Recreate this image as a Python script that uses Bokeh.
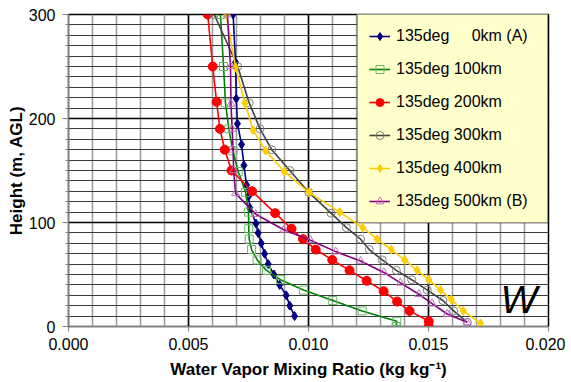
from bokeh.plotting import figure
from bokeh.models import (Range1d, SingleIntervalTicker, NumeralTickFormatter,
                          Legend, LegendItem, Label)
from bokeh.embed import file_html
from bokeh.resources import INLINE

# ---- data (height in m AGL, mixing ratio in kg/kg) ----
h_0km = [10, 20, 30, 40, 50, 60, 70, 80, 90, 99, 114, 125, 136, 155, 175, 195, 219, 254, 300]
q_0km = [0.00942, 0.00922, 0.00907, 0.00880, 0.00856, 0.00832, 0.00817, 0.00803, 0.00790, 0.00781,
         0.00756, 0.00750, 0.00742, 0.00731, 0.00721, 0.00704, 0.00699, 0.00696, 0.00686]

h_100km = [0, 5, 15, 25, 35, 45, 54, 64, 74, 84, 94, 110, 129, 149, 169, 190, 215, 250, 300]
q_100km = [0.01365, 0.01368, 0.01224, 0.01101, 0.00979, 0.00883, 0.00825, 0.00786, 0.00763, 0.00753,
           0.00751, 0.00750, 0.00738, 0.00707, 0.00685, 0.00668, 0.00654, 0.00646, 0.00633]

h_200km = [0, 5, 15, 24, 34, 44, 54, 64, 74, 84, 94, 109, 130, 150, 170, 190, 216, 250, 300]
q_200km = [0.01501, 0.01501, 0.01421, 0.01369, 0.01313, 0.01242, 0.01171, 0.01099, 0.01030, 0.00977,
           0.00929, 0.00861, 0.00765, 0.00679, 0.00651, 0.00631, 0.00617, 0.00601, 0.00580]

h_300km = [4, 15, 25, 35, 45, 54, 64, 74, 84, 95, 109, 129, 150, 170, 190, 215, 250, 300]
q_300km = [0.01662, 0.01605, 0.01560, 0.01495, 0.01430, 0.01366, 0.01307, 0.01253, 0.01217, 0.01158,
           0.01094, 0.01001, 0.00922, 0.00847, 0.00798, 0.00753, 0.00705, 0.00607]

h_400km = [3, 15, 26, 35, 45, 54, 64, 74, 84, 95, 110, 129, 149, 169, 189, 215, 249, 300]
q_400km = [0.01717, 0.01645, 0.01595, 0.01550, 0.01501, 0.01453, 0.01401, 0.01345, 0.01286, 0.01226,
           0.01130, 0.01002, 0.00899, 0.00821, 0.00769, 0.00735, 0.00696, 0.00657]

h_500km = [4, 12, 22, 31, 42, 52, 63, 72, 83, 93, 108, 128, 150, 170, 190, 214, 250, 300]
q_500km = [0.01661, 0.01578, 0.01515, 0.01460, 0.01383, 0.01314, 0.01217, 0.01113, 0.01008, 0.00897,
           0.00780, 0.00696, 0.00688, 0.00686, 0.00682, 0.00677, 0.00675, 0.00662]

labels = ["135deg\u00a0\u2007\u20070km (A)", "135deg 100km", "135deg 200km",
          "135deg 300km", "135deg 400km", "135deg 500km (B)"]

FONT = "Liberation Sans"

p = figure(width=565, height=381, output_backend="svg", toolbar_location=None,
           x_range=Range1d(0, 0.02), y_range=Range1d(0, 300),
           min_border_left=68, min_border_right=17, min_border_top=14, min_border_bottom=55)
p.background_fill_color = "white"
p.outline_line_color = "#000000"
p.outline_line_width = 1.5

# axes
p.xaxis.ticker = SingleIntervalTicker(interval=0.005, num_minor_ticks=5)
p.yaxis.ticker = SingleIntervalTicker(interval=100, num_minor_ticks=10)
p.xaxis.formatter = NumeralTickFormatter(format="0.000")
for ax in (p.xaxis, p.yaxis):
    ax.major_label_text_font = FONT
    ax.major_label_text_font_size = "16px"
    ax.major_label_text_color = "black"
    ax.axis_label_text_font = FONT
    ax.axis_label_text_font_size = "17px"
    ax.axis_label_text_font_style = "bold"
    ax.axis_label_text_color = "black"
    ax.axis_line_color = "#808080"
    ax.major_tick_line_color = "#808080"
    ax.minor_tick_line_color = "#808080"
    ax.major_tick_in = 0
    ax.minor_tick_in = 0
p.xaxis.axis_label = "Water Vapor Mixing Ratio (kg kg\u207b\u00b9)"
p.yaxis.axis_label = "Height (m, AGL)"
p.xaxis.major_tick_out = 5
p.xaxis.minor_tick_out = 0
p.xaxis.major_label_standoff = 6
p.xaxis.axis_label_standoff = 7
p.yaxis.major_tick_out = 6
p.yaxis.minor_tick_out = 3
p.yaxis.major_label_standoff = 7
p.yaxis.axis_label_standoff = 0

# grids
p.xgrid.grid_line_color = "black"
p.xgrid.grid_line_width = 1.5
p.ygrid.grid_line_color = "black"
p.ygrid.grid_line_width = 1.5
p.xgrid.minor_grid_line_color = "#9a9a9a"
p.xgrid.minor_grid_line_width = 1.5
p.ygrid.minor_grid_line_color = "#3a3a3a"
p.ygrid.minor_grid_line_width = 1

series = [
    (q_0km, h_0km, "#000080", "diamond", "#000080", "#000080", 9),
    (q_100km, h_100km, "#008000", "square", "#66b866", None, 8),
    (q_200km, h_200km, "#ff0000", "circle", "#ff0000", "#ff0000", 9),
    (q_300km, h_300km, "#404040", "circle", "#808080", None, 8),
    (q_400km, h_400km, "#ffcc00", "diamond", "#ffcc00", "#ffcc00", 9),
    (q_500km, h_500km, "#800080", "triangle", "#c070c0", None, 8),
]

items = []
for (q, h, lc, mk, mlc, mfc, sz), lab in zip(series, labels):
    r1 = p.line(q, h, line_color=lc, line_width=1.6)
    r2 = p.scatter(q, h, marker=mk, size=sz, line_color=mlc, fill_color=mfc, line_width=1)
    items.append(LegendItem(label=lab, renderers=[r1, r2]))

legend = Legend(items=items, location="top_right", margin=0, padding=11, spacing=13,
                glyph_width=21, glyph_height=20, label_height=20, label_width=140,
                label_standoff=6, background_fill_color="#ffffcc", background_fill_alpha=1,
                border_line_color="#333333", border_line_width=1,
                label_text_font=FONT, label_text_font_size="16px", label_text_color="black")
p.add_layout(legend)

p.add_layout(Label(x=0.0180, y=26, text="W", text_font=FONT, text_font_style="italic",
                   text_font_size="39px", text_baseline="alphabetic", text_color="black"))

open("out.html", "w").write(file_html(p, INLINE))
